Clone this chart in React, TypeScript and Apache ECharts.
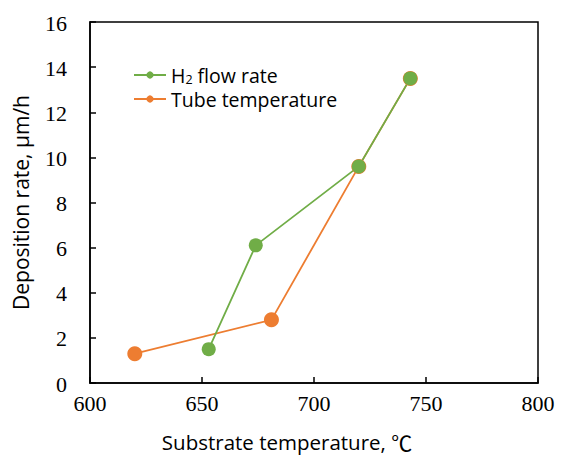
import React, { useEffect, useRef } from "react";
import * as echarts from "echarts";

const h2Temps = [653, 674, 720, 743];
const h2Rates = [1.5, 6.1, 9.6, 13.5];
const tubeTemps = [620, 681, 720, 743];
const tubeRates = [1.3, 2.8, 9.6, 13.5];
const seriesNames = ["H2 flow rate", "Tube temperature"];
const xTickLabels = [600, 650, 700, 750, 800];
const yTickLabels = [0, 2, 4, 6, 8, 10, 12, 14, 16];
const xTitle = "Substrate temperature, ";
const xUnit = "℃";
const yTitle = "Deposition rate, μm/h";

export default function App() {
  const ref = useRef<HTMLDivElement>(null);
  useEffect(() => {
    if (!ref.current) return;
    const chart = echarts.init(ref.current, null, { renderer: "svg" });
    const sans = "Open Sans";
    const cjk = "Noto Sans CJK JP";
    const serifFont = "22px Liberation Serif";
    chart.setOption({
      animation: false,
      backgroundColor: "#fff",
      grid: {
        left: 90, right: 31, top: 22, bottom: 76,
        outerBoundsMode: "none",
        containLabel: false,
        show: true, borderColor: "#000", borderWidth: 1.5,
      },
      legend: {
        data: seriesNames,
        orient: "vertical",
        left: 128,
        top: 60,
        itemGap: 3,
        itemWidth: 32,
        itemHeight: 9,
        formatter: (n: string) => (n === seriesNames[0] ? "{a|H}{s|2}{a| flow rate}" : "{a|" + n + "}"),
        textStyle: {
          fontFamily: sans,
          rich: {
            a: { fontFamily: sans, fontSize: 19.5, color: "#000" },
            s: { fontFamily: sans, fontSize: 12.5, color: "#000", verticalAlign: "bottom", padding: [9, 0, 0, 0] },
          },
        },
      },
      xAxis: {
        type: "value",
        min: xTickLabels[0],
        max: xTickLabels[xTickLabels.length - 1],
        interval: 50,
        name: "{a|" + xTitle + "}{b|" + xUnit + "}",
        nameLocation: "middle",
        nameGap: 48,
        nameTextStyle: {
          fontFamily: sans,
          padding: [0, 54, 0, 0],
          rich: {
            a: { fontFamily: sans, fontSize: 20.5, color: "#000" },
            b: { fontFamily: cjk, fontSize: 21, color: "#000" },
          },
        },
        axisLine: { show: true, lineStyle: { color: "#000", width: 1.5 } },
        axisTick: { show: true, inside: true, length: 6, lineStyle: { color: "#000", width: 1.5 } },
        axisLabel: { show: false },
        splitLine: { show: false },
      },
      yAxis: {
        type: "value",
        min: yTickLabels[0],
        max: yTickLabels[yTickLabels.length - 1],
        interval: 2,
        name: yTitle,
        nameLocation: "middle",
        nameGap: 59,
        nameTextStyle: { fontFamily: sans, fontSize: 21, color: "#000" },
        axisLine: { show: true, lineStyle: { color: "#000", width: 1.5 } },
        axisTick: { show: true, inside: true, length: 6, lineStyle: { color: "#000", width: 1.5 } },
        axisLabel: { show: false },
        splitLine: { show: false },
      },
      series: [
        {
          name: seriesNames[1],
          type: "line",
          data: tubeTemps.map((t, i) => [t, tubeRates[i]]),
          symbol: "circle",
          symbolSize: 15,
          itemStyle: { color: "#ED7D31" },
          lineStyle: { color: "#ED7D31", width: 1.8 },
        },
        {
          name: seriesNames[0],
          type: "line",
          data: h2Temps.map((t, i) => [t, h2Rates[i]]),
          symbol: "circle",
          symbolSize: 14,
          itemStyle: { color: "#70AD47" },
          lineStyle: { color: "#70AD47", width: 1.8 },
        },
      ],
    });
    const y0 = yTickLabels[0];
    const x0 = xTickLabels[0];
    const labels: any[] = [];
    xTickLabels.forEach((v) => {
      const p = chart.convertToPixel({ gridIndex: 0 }, [v, y0]) as number[];
      labels.push({
        type: "text",
        x: p[0],
        y: p[1] + 20,
        style: { text: String(v), font: serifFont, fill: "#000", align: "center", verticalAlign: "middle" },
      });
    });
    yTickLabels.forEach((v) => {
      const p = chart.convertToPixel({ gridIndex: 0 }, [x0, v]) as number[];
      labels.push({
        type: "text",
        x: p[0] - 23,
        y: p[1] + 1,
        style: { text: String(v), font: serifFont, fill: "#000", align: "right", verticalAlign: "middle" },
      });
    });
    chart.setOption({ graphic: labels });
    return () => chart.dispose();
  }, []);
  return <div ref={ref} style={{ width: 569, height: 459, position: "absolute", left: 0, top: 0 }} />;
}
